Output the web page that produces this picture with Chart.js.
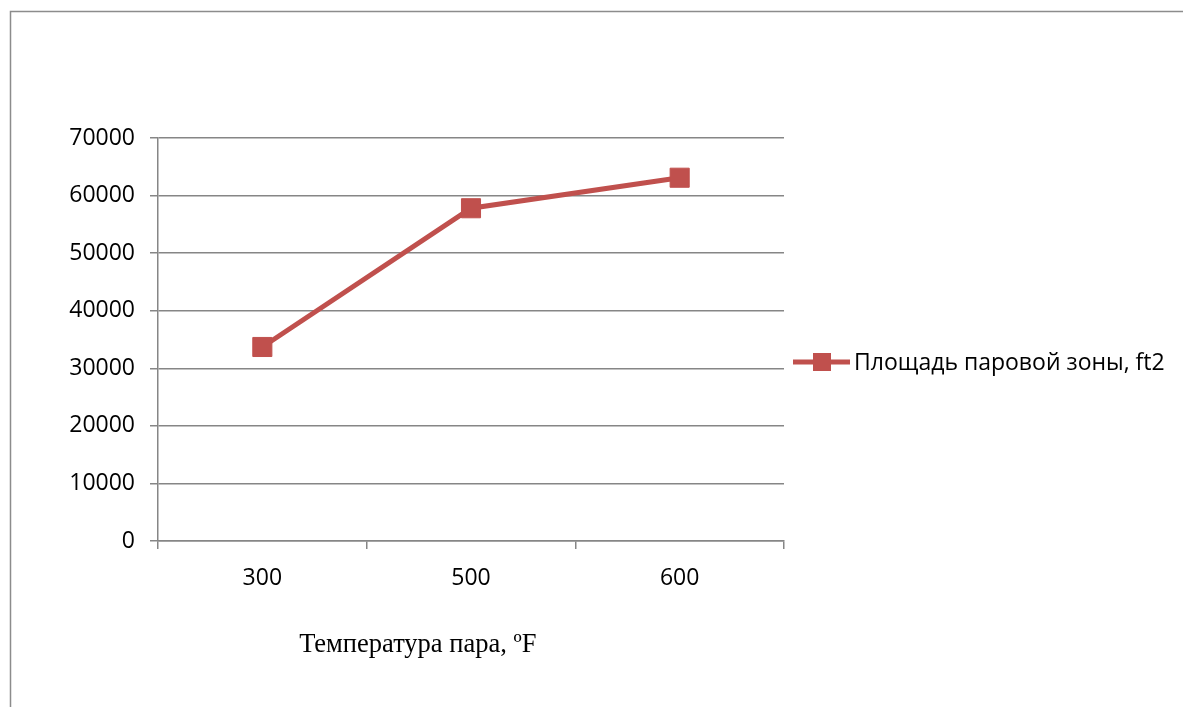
<!DOCTYPE html>
<html>
<head>
<meta charset="utf-8">
<script src="https://cdn.jsdelivr.net/npm/chart.js@4/dist/chart.umd.min.js"></script>
<style>
  html, body { margin: 0; padding: 0; background: #ffffff; }
  #wrap { width: 1183px; height: 707px; position: relative; }
</style>
</head>
<body>
<div id="wrap"><canvas id="c" width="1183" height="707"></canvas></div>
<script>
// Steam temperature categories and steam-zone area values
const categories = ['300', '500', '600'];
const areaValues = [33700, 57800, 63100];
const seriesLabel = 'Площадь паровой зоны, ft2';
const xAxisTitle = 'Температура пара, ºF';
const yMin = 0;
const yMax = 70000;
const yStep = 10000;

const RED = '#C0504D';
const GRID = '#868686';
const TICK_FONT = { family: '"Open Sans", sans-serif', size: 23 };

// Outer frame (top and left edges) of the chart box
const framePlugin = {
  id: 'frame',
  beforeDraw(chart) {
    const ctx = chart.ctx;
    ctx.save();
    ctx.fillStyle = '#ffffff';
    ctx.fillRect(0, 0, chart.width, chart.height);
    ctx.strokeStyle = '#8c8c8c';
    ctx.lineWidth = 1.5;
    ctx.beginPath();
    ctx.moveTo(10.5, chart.height);
    ctx.lineTo(10.5, 11.5);
    ctx.lineTo(chart.width, 11.5);
    ctx.stroke();
    ctx.restore();
  }
};

// Axis title under the category axis and the line+marker legend on the right
const annotatePlugin = {
  id: 'annotate',
  afterDraw(chart) {
    const ctx = chart.ctx;
    const area = chart.chartArea;
    const ds = chart.data.datasets[0];
    ctx.save();

    // x-axis title
    ctx.fillStyle = '#000000';
    ctx.font = '26.5px "Liberation Serif", "Times New Roman", serif';
    ctx.textAlign = 'center';
    ctx.textBaseline = 'middle';
    ctx.fillText(xAxisTitle, area.left + (area.right - area.left) * 0.415, 645);

    // legend entry
    const lx = area.right + 9;
    const ly = 362;
    ctx.strokeStyle = ds.borderColor;
    ctx.lineWidth = ds.borderWidth;
    ctx.beginPath();
    ctx.moveTo(lx, ly);
    ctx.lineTo(lx + 57, ly);
    ctx.stroke();
    ctx.fillStyle = ds.pointBackgroundColor;
    ctx.fillRect(lx + 20, ly - 9, 18, 18);
    ctx.fillStyle = '#000000';
    ctx.font = TICK_FONT.size + 'px ' + TICK_FONT.family;
    ctx.textAlign = 'left';
    ctx.fillText(seriesLabel, lx + 61, ly + 1);
    ctx.restore();
  }
};

new Chart(document.getElementById('c'), {
  type: 'line',
  data: {
    labels: categories,
    datasets: [{
      label: seriesLabel,
      data: areaValues,
      borderColor: RED,
      backgroundColor: RED,
      borderWidth: 5,
      tension: 0,
      pointStyle: 'rect',
      pointRadius: 13.5,
      pointBorderWidth: 1,
      pointBackgroundColor: RED,
      pointBorderColor: RED
    }]
  },
  options: {
    responsive: false,
    animation: false,
    devicePixelRatio: 1,
    layout: { padding: { top: 138, right: 399, bottom: 0, left: 0 } },
    plugins: {
      legend: { display: false },
      tooltip: { enabled: false }
    },
    scales: {
      x: {
        type: 'category',
        offset: true,
        grid: {
          offset: true,
          drawOnChartArea: false,
          drawTicks: true,
          tickLength: 8,
          color: GRID,
          lineWidth: 1.5
        },
        border: { display: true, color: GRID, width: 1.5 },
        ticks: { color: '#000000', font: TICK_FONT, padding: 16, maxRotation: 0 },
        afterFit(scale) { scale.height = 166; }
      },
      y: {
        min: yMin,
        max: yMax,
        ticks: {
          stepSize: yStep,
          color: '#000000',
          font: TICK_FONT,
          padding: 15,
          callback: (v) => String(v)
        },
        grid: {
          drawTicks: true,
          tickLength: 8,
          color: GRID,
          lineWidth: 1.5
        },
        border: { display: true, color: GRID, width: 1.5 },
        afterFit(scale) { scale.width = 158; }
      }
    }
  },
  plugins: [framePlugin, annotatePlugin]
});
</script>
</body>
</html>
